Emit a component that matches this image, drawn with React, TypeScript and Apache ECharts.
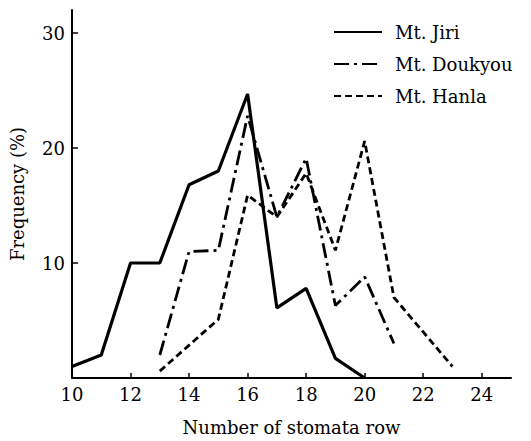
import React, { useEffect, useRef } from "react";
import * as echarts from "echarts";

const jiriX = [10, 11, 12, 13, 14, 15, 16, 17, 18, 19, 20];
const jiriY = [1, 2, 10, 10, 16.8, 18, 24.7, 6.1, 7.8, 1.7, 0];
const doukyouX = [13, 14, 15, 16, 17, 18, 19, 20, 21];
const doukyouY = [2, 11, 11.1, 22.8, 14, 19.1, 6.3, 8.8, 3];
const hanlaX = [13, 15, 16, 17, 18, 19, 20, 21, 23];
const hanlaY = [0.6, 5.1, 15.9, 14, 17.8, 11.1, 20.6, 7, 1];
const xTicks = [10, 12, 14, 16, 18, 20, 22, 24];
const yTicks = [10, 20, 30];
const seriesNames = ["Mt. Jiri", "Mt. Doukyou", "Mt. Hanla"];

const FONT = "DejaVu Serif";

export default function App() {
  const ref = useRef<HTMLDivElement>(null);
  useEffect(() => {
    if (!ref.current) return;
    const chart = echarts.init(ref.current, null, { renderer: "svg" });
    const pair = (xs: number[], ys: number[]) => xs.map((x, i) => [x, ys[i]]);
    chart.setOption({
      animation: false,
      backgroundColor: "#fff",
      textStyle: { fontFamily: FONT, color: "#000" },
      grid: { left: 70, right: 20, top: 10, bottom: 58 },
      legend: {
        orient: "vertical",
        left: 328,
        top: 17,
        itemWidth: 48,
        itemHeight: 14,
        itemGap: 12,
        itemStyle: { color: "transparent", borderWidth: 0, opacity: 0 },
        textStyle: { fontFamily: FONT, fontSize: 18, color: "#000", lineHeight: 20, padding: [0, 0, 0, 8] },
        data: seriesNames,
      },
      xAxis: {
        type: "value",
        min: 10,
        max: 25,
        interval: 2,
        name: "Number of stomata row",
        nameLocation: "middle",
        nameGap: 40,
        nameTextStyle: { fontFamily: FONT, fontSize: 18, color: "#000" },
        axisLine: { lineStyle: { color: "#000", width: 2 } },
        axisTick: { inside: true, length: 5, customValues: xTicks, lineStyle: { color: "#000", width: 1.5 } },
        axisLabel: { customValues: xTicks, fontFamily: FONT, fontSize: 18, color: "#000", margin: 7 },
        splitLine: { show: false },
      },
      yAxis: {
        type: "value",
        min: 0,
        max: 32,
        interval: 10,
        name: "Frequency (%)",
        nameLocation: "middle",
        nameGap: 46,
        nameRotate: 90,
        nameTextStyle: { fontFamily: FONT, fontSize: 18, color: "#000" },
        axisLine: { show: true, lineStyle: { color: "#000", width: 2 } },
        axisTick: { inside: true, length: 6, customValues: yTicks, lineStyle: { color: "#000", width: 1.5 } },
        axisLabel: { customValues: yTicks, fontFamily: FONT, fontSize: 18, color: "#000", margin: 7 },
        splitLine: { show: false },
      },
      series: [
        {
          name: seriesNames[0],
          type: "line",
          data: pair(jiriX, jiriY),
          symbol: "none",
          lineStyle: { color: "#000", width: 3.2, type: "solid" },
          itemStyle: { color: "#000" },
        },
        {
          name: seriesNames[1],
          type: "line",
          data: pair(doukyouX, doukyouY),
          symbol: "none",
          lineStyle: { color: "#000", width: 2.8, type: [15, 5, 3, 5] },
          itemStyle: { color: "#000" },
        },
        {
          name: seriesNames[2],
          type: "line",
          data: pair(hanlaX, hanlaY),
          symbol: "none",
          lineStyle: { color: "#000", width: 2.8, type: [7, 4] },
          itemStyle: { color: "#000" },
        },
      ],
    });
    return () => chart.dispose();
  }, []);
  return (
    <div
      ref={ref}
      style={{ position: "fixed", left: 0, top: 0, width: 531, height: 441 }}
    />
  );
}
